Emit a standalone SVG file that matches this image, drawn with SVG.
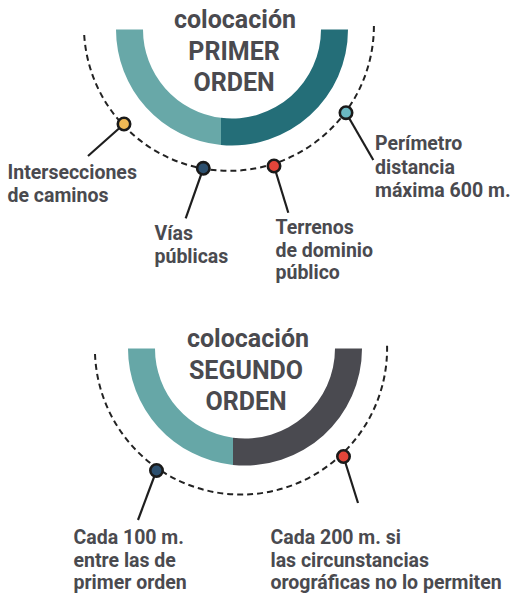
<svg xmlns="http://www.w3.org/2000/svg" width="511" height="593" viewBox="0 0 511 593">
<style>
.t{font-family:Roboto,"Liberation Sans",sans-serif;font-weight:700;fill:#4a4a4f;}
.lbl{font-size:19.5px;}
.ttl{font-size:25px;text-anchor:middle;}
.dash{fill:none;stroke:#222;stroke-width:2;stroke-dasharray:6 4;}
.lead{stroke:#1e1e1e;stroke-width:2.2;fill:none;}
.dot{stroke:#1a1a1a;stroke-width:2.6;}
</style>
<rect width="511" height="593" fill="#ffffff"/>
<g id="ring1">
<path d="M116,29.5 A116,116 0 0 0 221,145 L221,117.8 A89,89 0 0 1 143,29.5 Z" fill="#68a8a8"/>
<path d="M221,145 A116,116 0 0 0 348,29.5 L321,29.5 A89,89 0 0 1 221,117.8 Z" fill="#246e78"/>
</g>
<g id="title1" class="t ttl">
<text x="235" y="27.5">colocación</text>
<text x="234" y="60">PRIMER</text>
<text x="234" y="91">ORDEN</text>
</g>
<g id="ring2">
<path d="M128,348.5 A117,117 0 0 0 233,464.9 L233,437.7 A90,90 0 0 1 155,348.5 Z" fill="#66a7a7"/>
<path d="M233,464.9 A117,117 0 0 0 362,348.5 L335,348.5 A90,90 0 0 1 233,437.7 Z" fill="#4a4a50"/>
</g>
<g id="title2" class="t ttl">
<text x="248" y="346.5">colocación</text>
<text x="246" y="378.5">SEGUNDO</text>
<text x="246" y="410">ORDEN</text>
</g>
<g id="connectors">
<path class="dash" d="M84.2,35 A145,145 0 0 0 373.9,24"/>
<path class="dash" d="M95,354 A146,146 0 0 0 387,343"/>
<line class="lead" x1="124" y1="124" x2="88" y2="156"/>
<line class="lead" x1="203.3" y1="168.3" x2="185.7" y2="218.3"/>
<line class="lead" x1="274" y1="166" x2="288.3" y2="212.7"/>
<line class="lead" x1="346" y1="112.7" x2="373.3" y2="160"/>
<line class="lead" x1="156.5" y1="470.5" x2="138" y2="520"/>
<line class="lead" x1="343.5" y1="456.5" x2="358" y2="503"/>
</g>
<g id="n-intersecciones">
<circle class="dot" cx="124" cy="124" r="6.2" fill="#f0b955"/>
<text class="t lbl" x="7.5" y="179">Intersecciones</text>
<text class="t lbl" x="7.5" y="201.5">de caminos</text>
</g>
<g id="n-vias">
<circle class="dot" cx="203.3" cy="168.3" r="6.2" fill="#2c4f6e"/>
<text class="t lbl" x="154.5" y="240">Vías</text>
<text class="t lbl" x="154.5" y="262.5">públicas</text>
</g>
<g id="n-terrenos">
<circle class="dot" cx="274" cy="166" r="6.2" fill="#e2453a"/>
<text class="t lbl" x="275.5" y="233.5">Terrenos</text>
<text class="t lbl" x="275.5" y="256.5">de dominio</text>
<text class="t lbl" x="275.5" y="278.5">público</text>
</g>
<g id="n-perimetro">
<circle class="dot" cx="346" cy="112.7" r="6.2" fill="#6ab7c1"/>
<text class="t lbl" x="375" y="150">Perímetro</text>
<text class="t lbl" x="375" y="174">distancia</text>
<text class="t lbl" x="375" y="197">máxima 600 m.</text>
</g>
<g id="n-cada100">
<circle class="dot" cx="156.5" cy="470.5" r="6.2" fill="#2c4f6e"/>
<text class="t lbl" x="73.5" y="544">Cada 100 m.</text>
<text class="t lbl" x="73.5" y="566.5">entre las de</text>
<text class="t lbl" x="73.5" y="588.5">primer orden</text>
</g>
<g id="n-cada200">
<circle class="dot" cx="343.5" cy="456.5" r="6.2" fill="#e2453a"/>
<text class="t lbl" x="270.5" y="544">Cada 200 m. si</text>
<text class="t lbl" x="270.5" y="566.5">las circunstancias</text>
<text class="t lbl" x="270.5" y="588.5">orográficas no lo permiten</text>
</g>
</svg>
